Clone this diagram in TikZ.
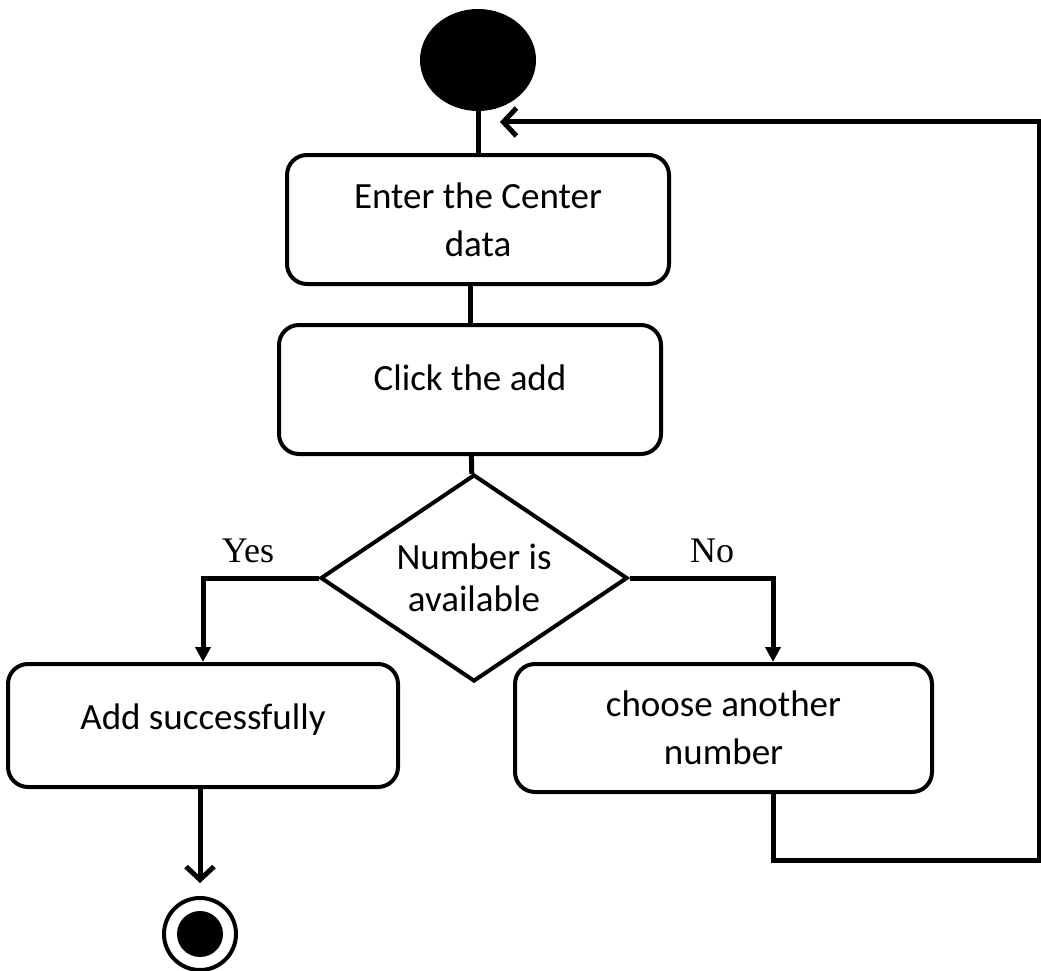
\documentclass[tikz,border=0pt]{standalone}
\usepackage{fontspec}
\setmainfont{Carlito}
\newfontfamily\yesnofont{Liberation Serif}
\usepackage{tikz}
\usetikzlibrary{calc,arrows.meta,shapes.geometric}

\begin{document}
\begin{tikzpicture}[
	x=1pt,y=-1pt,
	every node/.style={font=\fontsize{37pt}{48pt}\selectfont},
	act/.style={rectangle,draw,line width=4pt,rounded corners=20pt,align=center,minimum width=382pt,minimum height=129pt},
	choice/.style={diamond,draw,line width=4pt,aspect=1.48,inner sep=0pt,align=center,minimum width=307pt,minimum height=207pt,font=\fontsize{37pt}{42pt}\selectfont},
	initial/.style={ellipse,fill,minimum width=116pt,minimum height=102pt,inner sep=0pt},
	final/.style={circle,draw,line width=4pt,minimum size=72pt,inner sep=0pt,
		path picture={\fill (path picture bounding box.center) circle (23pt);}},
	guard/.style={font=\yesnofont\fontsize{36pt}{38pt}\selectfont},
	flow/.style={line width=5pt},
	open/.style={line width=5pt,arrows={-Straight Barb[length=13pt,width=28pt]}},
	solid/.style={line width=5pt,arrows={-Triangle[length=15pt,width=15pt]}}]
	\useasboundingbox (0,0) rectangle (1041,971);
	\node[initial] (start) at (478,60) {};
	\node[act] (enter) at (478,219.5) {Enter the Center\\data};
	\node[act,text depth=24pt] (click) at (470,389.5) {Click the add};
	\node[choice] (dec) at (474,578) {Number is\\available};
	\node[act,text depth=18pt,minimum width=390pt,minimum height=123pt] (done) at (203,725.5) {Add successfully};
	\node[act,minimum width=417pt,minimum height=128pt] (more) at (723.5,728) {choose another\\number};
	\node[final] (stop) at (200,934) {};
	\node[guard] (yes) at (248,551) {Yes};
	\node[guard] (no) at (712,551) {No};
	\coordinate (back) at (500,122);
	\coordinate (corner) at (1039,860);
	\draw[flow] (start) -- (enter);
	\draw[flow] (enter.south -| click) -- (click.north);
	\draw[flow] (click) -- (dec);
	\draw[solid] (dec.west) -| (done.north);
	\draw[solid] (dec.east) -| ($(more.north)+(49.5,0)$);
	\draw[open,shorten >=13pt] (done.south -| stop) -- (stop);
	\draw[open] ($(more.south)+(49.5,0)$) |- (corner) |- (back);
\end{tikzpicture}
\end{document}
